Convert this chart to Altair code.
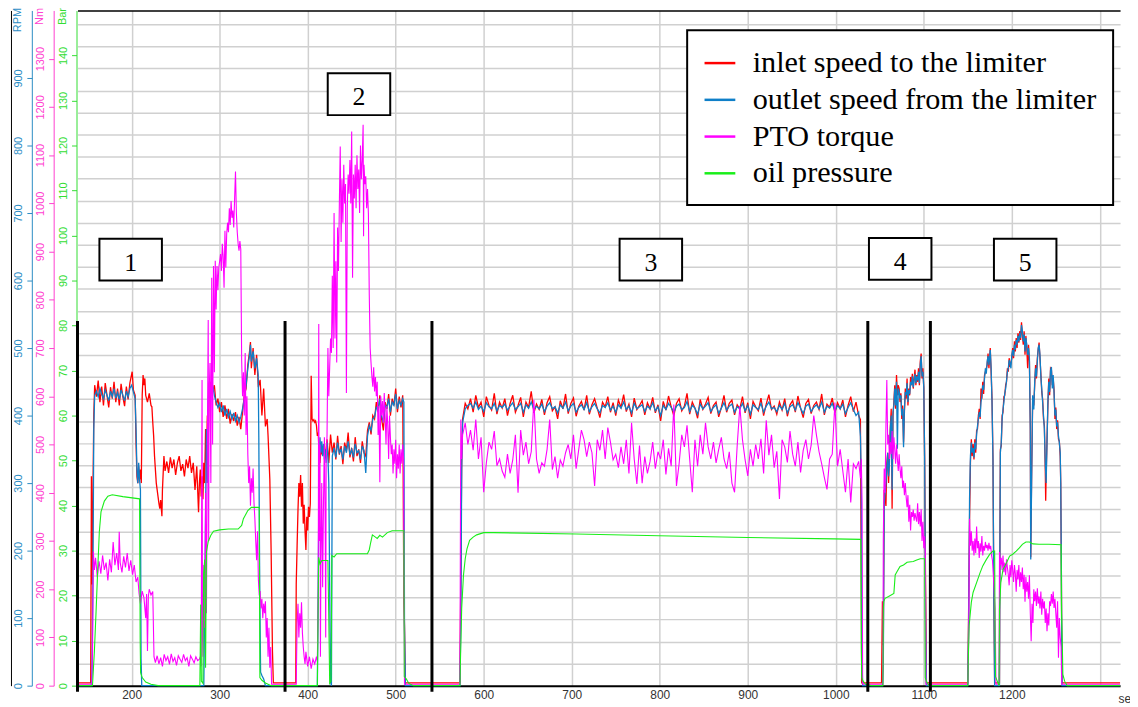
import altair as alt
import pandas as pd

SER = ["inlet speed to the limiter", "outlet speed from the limiter", "PTO torque", "oil pressure"]
COLORS = ["#ff0000", "#0f7fc8", "#ff00ff", "#19ee19"]

# ---------------- inlet speed (RPM) ----------------
red_s1 = [(138.5,4),(153.5,4),(154.3,310),(155,150),(156,280),(157,400),(158,445),(160,428),(162,452),(164,420),(166,443),(168,415),(170,448),(172,430),(174,412),(176,442),(178,425),(180,450),(182,420),(184,440),(186,415),(188,447),(190,428),(192,414),(194,443),(196,424),(198,448),(200.6,465),(202,438),(204,430),(205,360),(206,310),(207,300),(208,325),(209,305),(210,320),(211,300),(212,430),(213,460),(214,445),(215,455),(216,430),(218,420),(220,433),(222,415),(223,413),(224,390),(225,370),(226,340),(227,320),(228,300),(229,290),(230,280),(231,270),(232,262),(233,275),(234.4,251),(235,290),(236.7,340),(238,318),(240,332),(242,315),(244,338),(246,322),(248,335),(250,312),(252,330),(254,340),(256,318),(258,328),(260,310),(262,335),(264,322),(266,340),(268,315),(270,330),(272,290),(274,325),(276,257),(277,300),(278,320),(279,280),(280,310),(281,276),(282,330),(283,300),(284,380),(285,330),(286,400),(287,360),(288,430),(290,450),(292,435),(294,445),(296,415),(298,425),(300,405),(302,420),(304,398),(306,415),(308,395),(310,410),(312,388),(314,402),(316,392),(318,405),(320,385),(322,398),(324,380),(326,405),(328,430),(330,440),(332,475),(334,495),(335,509),(336,470),(338,500),(340,460),(342,490),(344,442),(346,453),(348,400),(350,440),(352,384),(354,395),(355,370),(357,306),(358.5,198),(360,51),(361,4),(374,4)]
red_s2 = [(386.5,4),(387,150),(388,207),(389,260),(390,300),(391,280),(392,312),(393,265),(394,300),(395,240),(396,268),(397,230),(398,201),(399,250),(400,230),(401,265),(402,250),(403,270),(404,459),(405,395),(406,392),(407,394),(408,390),(409,392),(410,385),(411,370),(412,375),(413,340),(414,330),(415,350),(416,345),(418,355),(420,340),(422,365),(424,330),(426,372),(428,345),(430,360),(432,335),(434,370),(436,342),(438,355),(440,328),(442,360),(444,348),(446,375),(448,338),(450,352),(452,332),(454,368),(456,340),(458,350),(460,330),(462,362),(464,345),(466,340),(468,378),(470,390),(472,372),(474,400),(476,395),(478,420),(480,405),(482,430),(484,395),(486,378),(488,420),(490,410),(492,432),(494,400),(496,425),(498,415),(500,440),(502,405),(504,428),(506,412),(508,430),(509.3,123),(510,91),(511,4),(573,4),(574,160),(575,330)]
sec3_t = list(range(576, 1027, 3))
red_s3 = [395,418,410,425,405,430,412,420,398,428,
          415,408,433,402,420,411,425,400,418,430,
          405,415,427,398,420,412,436,404,417,409,
          424,401,419,428,407,413,395,422,410,432,
          403,418,426,399,414,421,408,430,402,416,
          425,411,397,420,413,428,405,419,400,423,
          412,431,406,417,398,426,409,415,422,401,
          419,410,427,404,416,392,421,408,429,413,
          400,418,425,407,414,433,402,420,411,396,
          424,409,417,427,403,415,420,398,412,430,
          405,418,423,401,416,410,428,404,419,395,
          421,413,407,426,400,417,431,409,414,402,
          420,408,425,399,416,422,405,429,411,397,
          418,424,403,415,420,409,432,401,417,412,
          426,404,419,410,423,398,415,428,406,420,
          400]
red_tail3 = [(1028,394),(1029,150),(1029.5,4),(1052,4)]
t4 = list(range(1053, 1104))
red_s4 = [125,60,290,280,266,330,345,300,340,384,410,262,400,420,445,410,460,430,445,440,
          420,433,395,415,360,405,440,425,455,415,440,430,457,445,462,440,455,468,445,460,
          450,470,445,480,492,455,470,440,335,150,4]
red_s5 = [(1150,4),(1151,120),(1152,247),(1153,330),(1154,365),(1155,340),(1156,358),(1157,335),(1158,365),(1159,345),(1160,378),(1161,380),(1162,400),(1163,410),(1164,395),(1165,440),(1166,425),(1167,450),(1168,432),(1169,460),(1170,465),(1171,470),(1172,475),(1173,492),(1174,470),(1175.5,500),(1176.5,465),(1177.5,425),(1178.6,335),(1179.5,150),(1180.5,4),(1186,4),(1186.5,220),(1187,350),(1188,355),(1189,400),(1190,405),(1191,428),(1192,430),(1193,445),(1194,450),(1195,470),(1196,465),(1197,485),(1198,472),(1199,478),(1200,485),(1201,500),(1202,485),(1203,510),(1204,495),(1205,515),(1206,500),(1207,522),(1208,508),(1209,525),(1210,512),(1211,538),(1212,520),(1213,505),(1214,525),(1215,490),(1216,518),(1217,500),(1218,470),(1219,505),(1220,480),(1221,385),(1221.5,190),(1222.5,310),(1223.7,424),(1225,415),(1226,445),(1227,475),(1228,455),(1229,485),(1230,498),(1231,508),(1232,485),(1233,462),(1234,435),(1235,425),(1236,395),(1237,385),(1238,320),(1238.5,274),(1239,310),(1240,365),(1241,415),(1242,455),(1243,430),(1244,470),(1245,468),(1246,445),(1247,455),(1248,438),(1249,395),(1250,412),(1251,380),(1252,393),(1253,365),(1254,362),(1255,340),(1255.6,300),(1256.3,170),(1257,4),(1323,4)]

# ---------------- outlet speed (RPM) ----------------
blue_s1 = [(138.5,0),(154,0),(155,20),(156,150),(157,380),(158,430),(160,436),(162,428),(164,440),(166,432),(168,425),(170,438),(172,430),(174,422),(176,436),(178,428),(180,440),(182,426),(184,434),(186,424),(188,438),(190,430),(192,422),(194,436),(196,428),(198,440),(200,445),(202,435),(204,425),(205,380),(206,320),(207,300),(208,330),(209,305),(210,290),(210.7,40),(211.5,0),(282,0),(283,120),(284,250),(285,380),(286,300),(287,420),(288,440),(290,435),(292,445),(294,430),(296,420),(298,412),(300,418),(302,405),(304,415),(306,400),(308,410),(310,398),(312,406),(314,395),(316,404),(318,392),(320,400),(322,390),(324,398),(326,410),(328,425),(330,445),(332,470),(334,490),(335,505),(336,480),(338,495),(340,470),(342,485),(343.8,460),(344.5,367),(345.5,150),(346.5,20),(348,15),(350,10),(352,0)]
blue_s2 = [(374,0),(411,0),(412,150),(413,330),(414,368),(415,345),(416,362),(417,340),(418,358),(419,335),(420,350),(421,330),(422,360),(423,340),(424,300),(425,150),(426,5),(427,0),(427.5,180),(428,340),(430,352),(432,338),(434,360),(436,345),(438,350),(440,335),(442,355),(444,345),(446,362),(448,342),(450,350),(452,338),(454,358),(456,345),(458,348),(460,335),(462,355),(464,348),(466,315),(468,370),(470,385),(472,378),(474,395),(476,398),(478,412),(480,408),(482,425),(484,400),(486,390),(488,415),(490,412),(492,425),(494,405),(496,420),(498,415),(500,432),(502,410),(504,422),(506,415),(508,425),(509.3,420),(510,91),(511,0),(573,0),(574,100),(575,320)]
blue_s3 = [390,410,415,418,411,420,409,414,406,419,
           413,410,418,407,415,412,417,408,414,419,
           409,413,418,405,416,411,420,409,414,410,
           417,406,414,419,410,413,404,416,411,420,
           407,414,418,405,412,416,409,419,406,413,
           418,410,404,415,412,419,408,414,405,416,
           411,420,409,414,404,418,410,413,416,406,
           414,410,419,407,413,400,415,409,418,412,
           405,414,417,409,412,421,406,415,411,402,
           417,410,414,419,406,412,416,403,411,419,
           408,414,417,405,413,410,418,407,415,402,
           416,412,409,418,405,414,420,410,412,406,
           415,409,418,404,413,416,408,419,411,403,
           414,417,406,412,416,410,420,405,414,411,
           418,407,415,410,417,403,412,419,409,400,
           405]
blue_tail3 = [(1028,369),(1029,306),(1029.5,56),(1030.5,0),(1052,0)]
blue_s4 = [0,30,270,285,300,320,345,310,330,380,400,290,405,415,440,415,450,351,440,435,
           425,430,400,410,353,410,435,430,448,420,438,432,450,445,458,442,452,462,448,458,
           452,465,448,475,488,458,465,442,335,100,0]
blue_s5 = [(1150,0),(1151,100),(1152,276),(1153,340),(1154,360),(1155,345),(1156,352),(1157,338),(1158,360),(1159,350),(1160,372),(1161,384),(1162,395),(1163,405),(1164,398),(1165,420),(1166,430),(1167,445),(1168,438),(1169,455),(1170,470),(1171,462),(1172,480),(1173,488),(1174,475),(1175.5,497),(1176.5,470),(1177.5,420),(1178.6,335),(1179.5,150),(1180.5,0),(1186,0),(1186.5,200),(1187,345),(1188,360),(1189,395),(1190,409),(1191,420),(1192,433),(1193,440),(1194,452),(1195,465),(1196,470),(1197,482),(1198,478),(1199,470),(1200,490),(1201,497),(1202,488),(1203,505),(1204,498),(1205,512),(1206,505),(1207,518),(1208,510),(1209,522),(1210,515),(1211,534),(1212,525),(1213,510),(1214,520),(1215,495),(1216,515),(1217,505),(1218,490),(1219,500),(1220,485),(1221,380),(1221.5,187),(1222.5,300),(1223.7,430),(1225,409),(1226,450),(1227,470),(1228,458),(1229,480),(1230,500),(1231,505),(1232,490),(1233,458),(1234,440),(1235,420),(1236,400),(1237,380),(1238,331),(1239,300),(1240,360),(1241,420),(1242,450),(1243,435),(1244,467),(1245,472),(1246,440),(1247,460),(1248,433),(1249,400),(1250,409),(1251,384),(1252,390),(1253,370),(1254,360),(1255,345),(1255.6,300),(1256.3,170),(1257,0),(1323,0)]

# ---------------- PTO torque (Nm) ----------------
mag_s1 = [(138.5,3),(154.5,3),(155.5,60),(156.5,278),(157.7,240),(159,265),(161,225),(163,258),(165,232),(167,270),(169,240),(171,255),(173,218),(175,262),(177,235),(179,298),(181,250),(183,275),(185,240),(185.9,319),(187,255),(189,235),(191,268),(193,245),(195,275),(197,238),(199,260),(201,230),(203,250),(205,215),(207,225),(208.5,190),(210,170),(212,196),(214,182),(216,140),(217,190),(218,72),(219,185),(220,200),(222,188),(224,195),(225.4,60),(227,48),(229,62),(231,45),(233,58),(235,40),(237,65),(239,52),(241,60),(243,44),(245,66),(247,50),(249,58),(251,42),(253,62),(255,55),(257,48),(259,65),(261,52),(263,58),(265,40),(267,62),(269,55),(271,47),(273,60),(275,52),(277,55)]
mag_s1b = [(278,60),(279,40),(280,634),(280.5,100),(281,60),(282,250),(283,120),(284,400),(285,150),(286,500),(287,758),(287.5,300),(288,600),(289,669),(290,420),(291,846),(292,500),(293,870),(294,650),(295,881),(296,780),(297,870),(298,820),(299,867),(300,880),(301,895),(302,860),(303,916),(304,890),(305,825),(306,943),(307,867),(308,937),(309,960),(310,940),(311,990),(312,955),(313,1005),(314,970),(315,985),(316,950),(317,1010),(318,1066),(319,980),(320,940),(321,916),(322,902),(323,922),(324,905),(325,675),(326,600),(327,650),(328,560),(329,690),(330,520),(331,600),(332,480),(333,420),(334,455),(335,373),(336,430),(337,400),(338,450),(339,380),(340,346),(341,300),(342,260),(343,320),(344,220),(345,187),(346,196),(347,160),(348,180),(349,140),(350,170),(351,150),(352,175),(353,100),(354,140),(355,60),(356,120),(357,37),(358,80),(359,3),(387,3)]
mag_s2 = [(388,130),(389,170),(390,100),(391,150),(392,120),(393,173),(394,110),(395,80),(396,60),(397,45),(398,70),(400,40),(402,60),(404,35),(406,55),(408,45),(410,60),(411,50),(412,200),(412.6,750),(413,300),(414,500),(414.5,60),(415,250),(416,420),(417,204),(418,380),(419,515),(420,300),(420.5,100),(421,460),(422,520),(423,700),(424,600),(425,660),(426,720),(427,690),(428,850),(429,700),(430,980),(431,720),(432,880),(433,670),(434,950),(435,860),(436,1000),(437,1118),(438,920),(439,1050),(440,960),(441,1080),(442,1000),(443,1040),(444,607),(445,990),(446,1060),(447,1020),(448,1090),(449,1000),(450,1149),(451,846),(452,1060),(453,1010),(454,1080),(455,990),(456,1100),(457,1030),(458,1070),(459,980),(460,1120),(461,1050),(462,1090),(463,1163),(463.5,932),(464,1080),(465,1040),(466,1056),(467,990),(468,1030),(469,978),(470,809),(471,700),(472,669),(473,640),(474,620),(475,660),(476,610),(477,640),(478,600),(479,630),(480,520),(481,580),(482,422),(483,600),(484,560),(485,590),(486,545),(487,607),(488,560),(489,500),(490,580),(491,540),(492,470),(493,560),(494,515),(495,480),(496,500),(497,440),(498,490),(499,460),(500,510),(501,430),(502,480),(503,450),(504,500),(505,440),(506,490),(507,460),(508,500),(509,470),(509.5,200),(510,3),(573,3),(573.5,300),(574,552),(575,470)]
mag_s3 = [520,545,500,530,488,552,470,515,401,462,
          505,490,528,456,470,445,432,480,440,468,
          520,400,530,478,505,460,485,593,470,440,
          462,455,490,552,448,475,430,468,455,483,
          500,470,520,450,490,530,510,475,505,483,
          414,510,488,530,470,535,505,468,480,452,
          495,460,510,440,545,470,418,498,420,475,
          440,465,505,450,485,470,510,438,492,455,
          583,414,460,520,495,540,470,401,510,455,
          520,480,545,495,470,505,462,490,515,470,
          450,485,420,401,498,580,510,468,435,490,
          455,500,470,512,440,550,478,520,452,486,
          387,510,495,463,528,480,455,505,442,488,
          510,470,498,560,520,485,460,432,407,470,
          480,587,455,490,445,401,470,380,460,450,
          465]
mag_tail3 = [(1028,430),(1029,470),(1029.9,380),(1030.5,3),(1053,3)]
mag_s4 = [(1053.6,3),(1054,300),(1055,450),(1056,400),(1057,540),(1058,634),(1059,500),(1060,520),(1061,470),(1062,505),(1063,480),(1064,528),(1065,470),(1066,515),(1067,490),(1068,460),(1069,500),(1070,470),(1071,445),(1072,480),(1073,450),(1074,430),(1075,455),(1076,410),(1077,425),(1078,395),(1079,420),(1080,390),(1081,370),(1082,395),(1083,340),(1084,375),(1085,322),(1086,360),(1087,350),(1088,365),(1089,342),(1090,358),(1091,348),(1092,340),(1093,378),(1094,335),(1095,360),(1096,330),(1097,366),(1098,300),(1099,340),(1100,285),(1101,310),(1101.8,275),(1102.5,3),(1150,3)]
mag_s5 = [(1151,100),(1152,346),(1153,290),(1154,320),(1155,280),(1156,300),(1157,270),(1158,305),(1159,275),(1160,330),(1161,285),(1162,300),(1163,265),(1164,295),(1165,278),(1166,310),(1167,270),(1168,290),(1169,280),(1170,298),(1171,285),(1172,292),(1173,280),(1174,296),(1175,283),(1176,290),(1177,270),(1178,260),(1179,230),(1180,195),(1181,160),(1182,3),(1185.5,3),(1186,277),(1187,250),(1188,265),(1189,240),(1190,270),(1191,235),(1192,255),(1193,229),(1194,262),(1195,245),(1196,230),(1197,208),(1198,250),(1199,225),(1200,260),(1201,240),(1202,215),(1203,250),(1204,232),(1205,195),(1206,240),(1207,220),(1208,250),(1209,205),(1210,235),(1211,215),(1212,245),(1213,200),(1214,230),(1215,174),(1216,225),(1217,195),(1218,215),(1219,180),(1220,229),(1221,150),(1222,92),(1223,170),(1224,130),(1225,200),(1226,175),(1227,195),(1228,165),(1229,202),(1230,170),(1231,185),(1232,160),(1233,195),(1234,147),(1235,180),(1236,160),(1237,175),(1238,130),(1239,160),(1240,113),(1241,150),(1242,125),(1243,175),(1244,165),(1245,190),(1246,170),(1247,195),(1248,161),(1249,180),(1250,150),(1251,120),(1252,175),(1253,58),(1254,140),(1255,100),(1256,80),(1256.7,3),(1323,3)]

# ---------------- oil pressure (Bar) ----------------
green_s1 = [(138.5,0),(155.5,0),(157.7,7.7),(159.6,16.5),(161.4,25.4),(163.3,34.2),(165.2,38.6),(169,41),(173,42.1),(178,42.4),(190,42),(209,41.5),(209.7,10),(210.2,2.9),(212,1.8),(216,0.8),(222,0.3),(230,0),(277.5,0),(278.5,18),(279.2,1),(281,0.5),(281.8,25),(283,28),(284,4),(285,29.7),(287,32),(290,33.4),(293,34.3),(300,34.6),(310,34.8),(321,34.8),(325,35.6),(327,37.1),(329,37.8),(332,38.9),(336,39.6),(345,39.6),(345.7,1.8),(348,1.2),(352,0.6),(358.5,0)]
green_s2 = [(374,0),(411,0),(411.5,10),(412.5,28.5),(414,27),(416,27.8),(420,27.8),(423,27.8),(424,15),(425,0.5),(426.5,1),(427.5,28.9),(430,28.6),(433,29.3),(467.9,29.3),(470,30.2),(471.6,31.8),(473.5,33.5),(477,33),(479,32.7),(482,33.4),(485,33),(490.5,34),(496,34.4),(509.3,34.4),(509.8,2),(512,1.5),(515,0.5),(520,0)]
green_s3 = [(573,0),(573.5,5),(575,17.2),(577,24.5),(579,28.2),(581,30.4),(584,32.3),(588,33),(592,33.5),(600,34),(611,34),(705,33.7),(799,33.3),(900,32.9),(998,32.6),(1028.5,32.5),(1029,8.4),(1029.5,1.8),(1031,1),(1034,0.3),(1040,0)]
green_s4 = [(1053.6,0),(1054,17),(1054.5,18.7),(1056,19.4),(1060,19.8),(1066,20.5),(1067.5,24.6),(1069.5,25.3),(1073,26.5),(1077,26.8),(1081,27.4),(1088,27.6),(1092,27.9),(1096,28.2),(1101,28.2),(1101.7,1.8),(1103,1),(1106,0)]
green_s5 = [(1150,0),(1150.5,5),(1151.5,13.3),(1154,18.5),(1156,20.7),(1160,22.9),(1164,25.1),(1167,26.6),(1171,28),(1175,29.2),(1178.6,29.9),(1180.5,29.9),(1181,10),(1181.5,2),(1185.5,0),(1186,17),(1187.5,22.9),(1190,25.8),(1194,27.3),(1197.5,28.8),(1201,29.2),(1205,29.9),(1208.6,30.6),(1212,31.4),(1216,31.9),(1220,31.9),(1224,31.5),(1231,31.4),(1242,31.4),(1256,31.3),(1256.5,16),(1257.5,8),(1258,2.5),(1260,1),(1263,0),(1323,0)]

# ---------------- annotations ----------------
sep_t = [138.5, 374.3, 541.2, 1036.4, 1107.5]
box_t = [198.9, 458.3, 789.9, 1073.2, 1215.2]
box_rpm = [631, 876, 631, 632, 631]
box_labels = ["1", "2", "3", "4", "5"]
x_ticks = list(range(200, 1301, 100))


def frame(pairs, name):
    df = pd.DataFrame(pairs, columns=["t", "v"]).sort_values("t", kind="stable")
    df["series"] = name
    return df


red_df = frame(red_s1 + red_s2 + list(zip(sec3_t, red_s3)) + red_tail3 + list(zip(t4, red_s4)) + red_s5, SER[0])
blue_df = frame(blue_s1 + blue_s2 + list(zip(sec3_t, blue_s3)) + blue_tail3 + list(zip(t4, blue_s4)) + blue_s5, SER[1])
mag_df = frame(mag_s1 + mag_s1b + mag_s2 + list(zip(sec3_t, mag_s3)) + mag_tail3 + mag_s4 + mag_s5, SER[2])
green_df = frame(green_s1 + green_s2 + green_s3 + green_s4 + green_s5, SER[3])

XS = alt.Scale(domain=[138.5, 1323], nice=False, zero=False)
GRID = "#d0d0d0"

legend = alt.Legend(title=None, orient="none", legendX=614, legendY=20, symbolType="stroke",
                    symbolSize=961, symbolStrokeWidth=2.5, labelFont="Liberation Serif",
                    labelFontSize=30.4, labelColor="black", labelLimit=700, labelOffset=16,
                    rowPadding=4, padding=16, strokeColor="black", fillColor="white")
color = alt.Color("series:N", scale=alt.Scale(domain=SER, range=COLORS), legend=legend)


def yaxis(col, vals, title, offset):
    return alt.Axis(orient="left", offset=offset, values=vals, title=title, grid=False,
                    domainColor=col, tickColor=col, labelColor=col, titleColor=col,
                    tickSize=5, labelAngle=270, labelAlign="center", labelBaseline="bottom",
                    labelPadding=3, labelFont="Liberation Sans", labelFontSize=11,
                    labelFlush=False, labelOverlap=False, format="d",
                    titleAngle=270, titleAlign="right", titleBaseline="middle",
                    titleX=-14, titleY=-3, titleFont="Liberation Sans", titleFontSize=11,
                    titleFontWeight="normal")


xaxis = alt.Axis(values=x_ticks, format="d", labelExpr="datum.value == 1300 ? '' : datum.label",
                 grid=True, gridColor=GRID, gridWidth=1.5, domainColor="black", domainWidth=2,
                 ticks=False, labelFont="Liberation Sans", labelFontSize=12, labelColor="#333333",
                 labelPadding=4, labelFlush=False, title="sec", titleX=1048, titleY=17,
                 titleAlign="left", titleBaseline="alphabetic", titleFontWeight="normal",
                 titleFont="Liberation Sans", titleFontSize=12, titleColor="#333333")

rpm_scale = alt.Scale(domain=[0, 1000], nice=False, zero=False)

grid = alt.Chart(pd.DataFrame({"g": [0]})).mark_point(opacity=0).encode(
    y=alt.Y("g:Q", scale=alt.Scale(domain=[0, 30.63], nice=False),
            axis=alt.Axis(orient="right", values=list(range(1, 31)), grid=True, gridColor=GRID,
                          gridWidth=1.5, domain=False, ticks=False, labels=False, title=None)))

red = alt.Chart(red_df).mark_line(strokeWidth=1.3).encode(
    x=alt.X("t:Q", scale=XS, axis=xaxis),
    y=alt.Y("v:Q", scale=rpm_scale, axis=yaxis("#2b8cc4", list(range(0, 901, 100)), "RPM", 46)),
    color=color)

blue = alt.Chart(blue_df).mark_line(strokeWidth=1.3).encode(
    x=alt.X("t:Q", scale=XS, axis=None),
    y=alt.Y("v:Q", scale=rpm_scale, axis=None),
    color=color)

mag = alt.Chart(mag_df).mark_line(strokeWidth=1.1).encode(
    x=alt.X("t:Q", scale=XS, axis=None),
    y=alt.Y("v:Q", scale=alt.Scale(domain=[0, 1400], nice=False),
            axis=yaxis("#ff40d0", list(range(0, 1301, 100)), "Nm", 24)),
    color=color)

green = alt.Chart(green_df).mark_line(strokeWidth=1.1).encode(
    x=alt.X("t:Q", scale=XS, axis=None),
    y=alt.Y("v:Q", scale=alt.Scale(domain=[0, 150], nice=False),
            axis=yaxis("#33dd33", list(range(0, 141, 10)), "Bar", 1)),
    color=color)

sep_df = pd.DataFrame({"t": sep_t})
sep = alt.Chart(sep_df).transform_calculate(top="540", bot="-9").mark_rule(
    color="black", strokeWidth=3).encode(
    x=alt.X("t:Q", scale=XS, axis=alt.Axis(orient="top", labels=False, ticks=False, grid=False,
                                          domainColor="black", domainWidth=1.5, title=None)),
    y=alt.Y("top:Q", scale=rpm_scale,
            axis=alt.Axis(orient="left", offset=67, labels=False, ticks=False, grid=False,
                          domainColor="black", domainWidth=1, title=None)),
    y2="bot:Q")

box_df = pd.DataFrame({"t": box_t, "rpm": box_rpm, "label": box_labels})
boxes = alt.Chart(box_df).transform_calculate(
    x1="datum.t - 35.5", x2="datum.t + 35.5", y1="datum.rpm - 31", y2="datum.rpm + 31"
).mark_rect(fill="white", stroke="black", strokeWidth=2).encode(
    x=alt.X("x1:Q", scale=XS, axis=None), x2="x2:Q",
    y=alt.Y("y1:Q", scale=rpm_scale, axis=None), y2="y2:Q")

texts = alt.Chart(box_df).mark_text(font="Liberation Serif", fontSize=26, dy=3, color="black").encode(
    x=alt.X("t:Q", scale=XS, axis=None),
    y=alt.Y("rpm:Q", scale=rpm_scale, axis=None),
    text="label:N")

chart = alt.layer(grid, red, blue, mag, green, sep, boxes, texts).resolve_scale(
    y="independent").resolve_axis(x="independent", y="independent").properties(
    width=1050, height=680,
    autosize=alt.AutoSizeParams(type="none"),
    padding={"left": 70, "top": 0, "right": 10, "bottom": 17},
).configure_view(stroke=None).configure_legend(strokeWidth=2)

chart.save("out.html", embed_options={"renderer": "svg", "actions": False})
